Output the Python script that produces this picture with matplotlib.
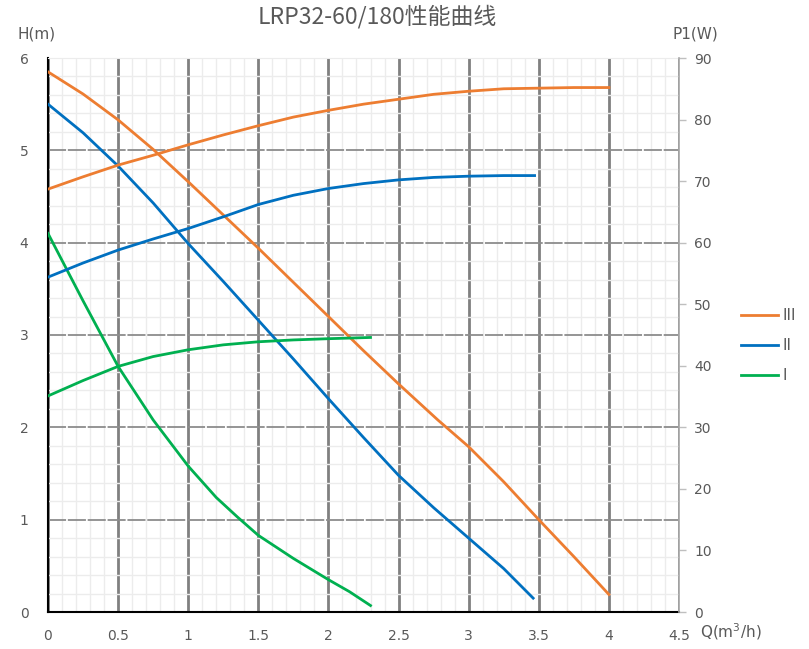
import matplotlib
matplotlib.use("Agg")
import matplotlib.pyplot as plt
from matplotlib.ticker import MultipleLocator

plt.rcParams['font.family'] = ['DejaVu Sans']

# ---- data ----
q_h3 = [0, 0.25, 0.5, 0.75, 1.0, 1.25, 1.5, 1.75, 2.0, 2.25, 2.5, 2.78, 3.0, 3.25, 3.5, 3.75, 4.0]
h3   = [5.85, 5.61, 5.33, 5.01, 4.66, 4.30, 3.94, 3.57, 3.20, 2.83, 2.47, 2.08, 1.79, 1.41, 1.00, 0.60, 0.19]

q_h2 = [0, 0.25, 0.5, 0.75, 1.0, 1.25, 1.5, 1.75, 2.0, 2.25, 2.5, 2.75, 3.0, 3.25, 3.46]
h2   = [5.50, 5.19, 4.83, 4.43, 3.99, 3.58, 3.16, 2.74, 2.31, 1.89, 1.48, 1.13, 0.80, 0.47, 0.15]

q_h1 = [0, 0.25, 0.5, 0.75, 1.0, 1.2, 1.35, 1.5, 1.75, 2.0, 2.15, 2.3]
h1   = [4.10, 3.37, 2.66, 2.08, 1.58, 1.24, 1.03, 0.83, 0.58, 0.35, 0.22, 0.07]

q_p3 = [0, 0.25, 0.5, 0.75, 1.0, 1.25, 1.5, 1.75, 2.0, 2.25, 2.5, 2.75, 3.0, 3.25, 3.5, 3.75, 4.0]
p3   = [68.7, 70.7, 72.6, 74.2, 75.9, 77.5, 79.0, 80.4, 81.5, 82.5, 83.3, 84.1, 84.6, 85.0, 85.1, 85.2, 85.2]

q_p2 = [0, 0.25, 0.5, 0.75, 1.0, 1.25, 1.5, 1.75, 2.0, 2.25, 2.5, 2.75, 3.0, 3.25, 3.47]
p2   = [54.4, 56.7, 58.8, 60.6, 62.3, 64.2, 66.2, 67.7, 68.8, 69.6, 70.2, 70.6, 70.8, 70.9, 70.9]

q_p1 = [0, 0.25, 0.5, 0.75, 1.0, 1.25, 1.5, 1.75, 2.0, 2.3]
p1   = [35.1, 37.6, 39.9, 41.5, 42.6, 43.4, 43.9, 44.2, 44.4, 44.6]

series_names = ["III", "II", "I"]
colors = ["#ED7D31", "#0070C0", "#00B050"]

x_ticks = [0, 0.5, 1, 1.5, 2, 2.5, 3, 3.5, 4, 4.5]
x_tick_labels = ["0", "0.5", "1", "1.5", "2", "2.5", "3", "3.5", "4", "4.5"]

title = "LRP32-60/180性能曲线"
txt = "#595959"

fig = plt.figure(figsize=(8.09, 6.49), dpi=100)
ax = fig.add_axes([48/809, 37/649, 631/809, 554/649])
ax2 = ax.twinx()

ax.set_xlim(0, 4.5)
ax.set_ylim(0, 6)
ax2.set_ylim(0, 90)

# grids
ax.xaxis.set_minor_locator(MultipleLocator(0.1))
ax.yaxis.set_minor_locator(MultipleLocator(0.2))
ax.grid(which='minor', axis='both', color='#ececec', lw=1.0, zorder=0)
ax.set_xticks(x_ticks)
ax.set_xticklabels(x_tick_labels)
ax.set_yticks([0, 1, 2, 3, 4, 5, 6])
ax.grid(which='major', axis='x', color='#808080', lw=2.0, zorder=1)
ax.grid(which='major', axis='y', color='#8c8c8c', lw=1.3, ls=(0, (10, 1.0)), zorder=1)
ax.set_axisbelow(True)

lw = 2.0
ax.plot(q_h3, h3, color=colors[0], lw=lw, zorder=5)
ax.plot(q_h2, h2, color=colors[1], lw=lw, zorder=5)
ax.plot(q_h1, h1, color=colors[2], lw=lw, zorder=5)
l3, = ax2.plot(q_p3, p3, color=colors[0], lw=lw, label=series_names[0])
l2, = ax2.plot(q_p2, p2, color=colors[1], lw=lw, label=series_names[1])
l1, = ax2.plot(q_p1, p1, color=colors[2], lw=lw, label=series_names[2])

# spines
ax2.spines['top'].set_visible(False)
ax.spines['top'].set_color('#ececec')
ax.spines['left'].set_color('black')
ax.spines['left'].set_linewidth(1.5)
ax.spines['bottom'].set_color('black')
ax.spines['bottom'].set_linewidth(1.5)
ax.spines['right'].set_visible(False)
ax2.spines['left'].set_visible(False)
ax2.spines['bottom'].set_visible(False)
ax2.spines['right'].set_color('#a6a6a6')
ax2.spines['right'].set_linewidth(1.2)

ax.tick_params(axis='x', which='both', length=0, pad=12, labelsize=10, labelcolor=txt)
ax.tick_params(axis='y', which='both', length=0, pad=14, labelsize=10, labelcolor=txt)
ax2.set_yticks(range(0, 91, 10))
ax2.tick_params(axis='y', length=5, width=1, color='#bfbfbf', pad=6, labelsize=10, labelcolor=txt)

# texts
fig.text(377/809, 1 - 17/649, title, ha='center', va='center', fontsize=16.5,
         color=txt, family=['Noto Sans CJK SC', 'DejaVu Sans'])
fig.text(37/809, 1 - 34/649, "H(m)", ha='center', va='center', fontsize=11, color=txt)
fig.text(695/809, 1 - 34/649, "P1(W)", ha='center', va='center', fontsize=11, color=txt)
fig.text(700/809, 1 - 632/649, "Q(m$^3$/h)", ha='left', va='center', fontsize=11, color=txt)

leg = fig.legend(handles=[l3, l2, l1], labels=series_names,
                 loc='upper left', bbox_to_anchor=(735/809, 1 - 302/649),
                 frameon=False, fontsize=11, handlelength=2.4, handletextpad=0.3,
                 labelspacing=0.98, borderaxespad=0)
for t in leg.get_texts():
    t.set_color(txt)

fig.savefig("out.png", dpi=100)
